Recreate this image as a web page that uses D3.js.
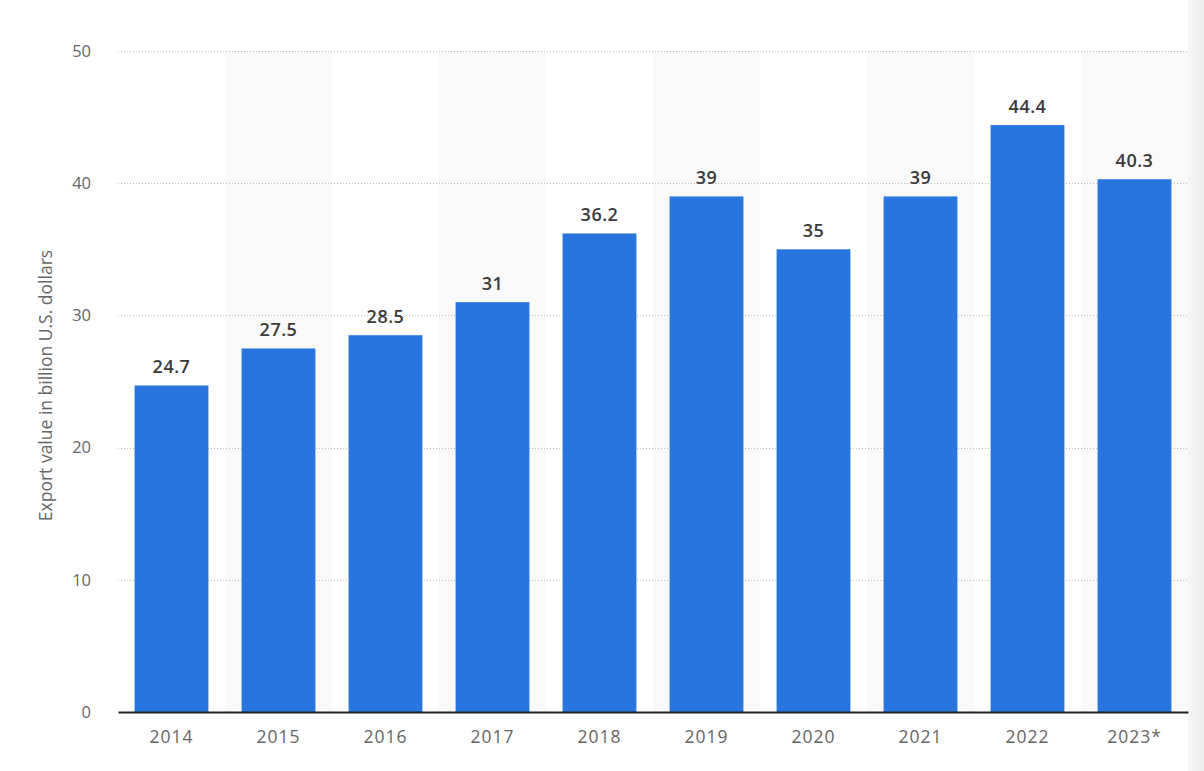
<!DOCTYPE html>
<html>
<head>
<meta charset="utf-8">
<script src="https://cdn.jsdelivr.net/npm/d3@7"></script>
<style>
  html, body { margin: 0; padding: 0; background: #fff; }
  svg { display: block; }
  svg text { font-family: "Open Sans", "Noto Sans", sans-serif; }
</style>
</head>
<body>
<svg id="chart" width="1204" height="771"></svg>
<script>
"use strict";

// data
const years = ["2014", "2015", "2016", "2017", "2018", "2019", "2020", "2021", "2022", "2023*"];
const exportValues = [24.7, 27.5, 28.5, 31, 36.2, 39, 35, 39, 44.4, 40.3];
const yTicks = [0, 10, 20, 30, 40, 50];
const yLabel = "Export value in billion U.S. dollars";

// layout
const width = 1204, height = 771;
const plot = { left: 118, right: 1188, top: 51, bottom: 712 };

const svg = d3.select("#chart");

// faint shadow at the right edge
const defs = svg.append("defs");
const grad = defs.append("linearGradient").attr("id", "edge").attr("x1", 0).attr("x2", 1);
grad.append("stop").attr("offset", "0%").attr("stop-color", "#f6f6f6");
grad.append("stop").attr("offset", "100%").attr("stop-color", "#eeeeee");
svg.append("rect")
  .attr("x", plot.right).attr("y", 0)
  .attr("width", width - plot.right).attr("height", height)
  .attr("fill", "url(#edge)");

// scales
const x = d3.scaleBand()
  .domain(years)
  .range([plot.left, plot.right])
  .paddingInner(0.31)
  .paddingOuter(0.155);

const y = d3.scaleLinear()
  .domain([0, 50])
  .range([plot.bottom, plot.top]);

const step = x.step();

// alternating band backgrounds
svg.append("g").attr("class", "bands")
  .selectAll("rect")
  .data(years.filter((d, i) => i % 2 === 1))
  .join("rect")
  .attr("x", d => x(d) - (step - x.bandwidth()) / 2)
  .attr("y", plot.top)
  .attr("width", step)
  .attr("height", plot.bottom - plot.top)
  .attr("fill", "#f9f9f9");

// grid lines
svg.append("g").attr("class", "grid")
  .selectAll("line")
  .data(yTicks.filter(d => d > 0))
  .join("line")
  .attr("x1", plot.left).attr("x2", plot.right)
  .attr("y1", d => Math.round(y(d)) + 0.5)
  .attr("y2", d => Math.round(y(d)) + 0.5)
  .attr("stroke", "#bdbdbd")
  .attr("stroke-width", 1)
  .attr("stroke-dasharray", "1,2");

// y axis labels
const yAxis = svg.append("g")
  .attr("class", "y_axis")
  .attr("transform", `translate(${plot.left}, 0)`)
  .call(d3.axisLeft(y).tickValues(yTicks).tickSize(0).tickPadding(27));
yAxis.attr("font-family", null);
yAxis.select(".domain").remove();
yAxis.selectAll("text")
  .attr("fill", "#666")
  .style("font-size", "16.5px");

// y axis title
svg.append("text")
  .attr("transform", `translate(52, ${(plot.top + plot.bottom) / 2 + 4}) rotate(-90)`)
  .attr("text-anchor", "middle")
  .attr("fill", "#666")
  .style("font-size", "17.5px")
  .text(yLabel);

// bars
svg.append("g").attr("class", "bars")
  .selectAll("rect")
  .data(exportValues)
  .join("rect")
  .attr("x", (d, i) => x(years[i]))
  .attr("y", d => y(d))
  .attr("width", x.bandwidth())
  .attr("height", d => plot.bottom - y(d))
  .attr("fill", "#2876dd");

// value labels
svg.append("g").attr("class", "values")
  .selectAll("text")
  .data(exportValues)
  .join("text")
  .attr("x", (d, i) => x(years[i]) + x.bandwidth() / 2)
  .attr("y", d => y(d) - 12)
  .attr("text-anchor", "middle")
  .attr("fill", "#3a3a3a")
  .style("font-size", "18px")
  .style("font-weight", "600")
  .style("letter-spacing", "0.5px")
  .text(d => d);

// x axis
const xAxis = svg.append("g")
  .attr("class", "x_axis")
  .attr("transform", `translate(0, ${plot.bottom})`)
  .call(d3.axisBottom(x).tickSize(0).tickPadding(19));
xAxis.attr("font-family", null);
xAxis.select(".domain")
  .attr("stroke", "#222")
  .attr("stroke-width", 2);
xAxis.selectAll("text")
  .attr("fill", "#666")
  .style("font-size", "17.5px")
  .style("letter-spacing", "1px");
</script>
</body>
</html>
